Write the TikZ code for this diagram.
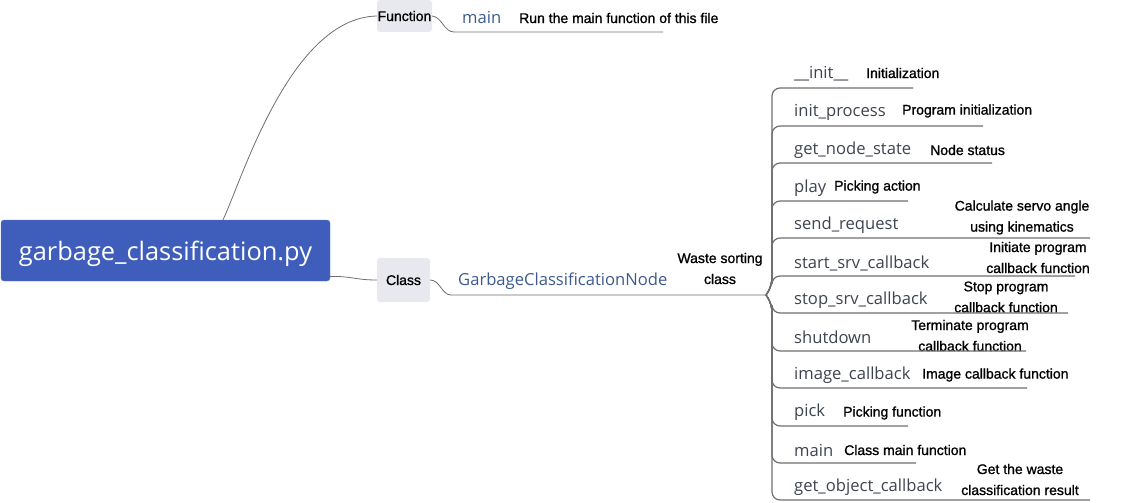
\documentclass[tikz,border=0pt]{standalone}
\usepackage{fontspec}
\setmainfont{Liberation Sans}
\newfontfamily\topicfont{Open Sans}
\newfontfamily\lblfont[FakeBold=1.1]{Liberation Sans}
\usetikzlibrary{calc}
\definecolor{rootblue}{HTML}{3F5DBA}
\definecolor{boxgray}{HTML}{E8E9EF}
\definecolor{linegray}{HTML}{6E6E6E}
\definecolor{topictxt}{HTML}{3E4350}
\definecolor{clstxt}{HTML}{3D5A8E}
\tikzset{
  rootbox/.style={fill=rootblue,draw=rootblue!80!white,rounded corners=3pt,minimum width=329pt,minimum height=61pt,inner sep=0pt,text=white,text height=20pt,text depth=0pt,font=\topicfont\fontsize{25.4}{30}\selectfont},
  catbox/.style={fill=boxgray,rounded corners=3pt,inner sep=0pt,font=\lblfont\fontsize{14}{17}\selectfont},
  topic/.style={inner sep=0pt,anchor=west,text=topictxt,font=\topicfont\fontsize{16.6}{19}\selectfont},
  lbl/.style={inner sep=0pt,anchor=west,font=\lblfont\fontsize{14}{21}\selectfont},
  lbl2/.style={inner sep=0pt,align=center,font=\lblfont\fontsize{14}{21}\selectfont},
  conn/.style={draw=linegray,line width=0.8pt},
  brk/.style={draw=linegray,line width=1.2pt,rounded corners=8pt},
}
\begin{document}
\begin{tikzpicture}[x=1pt,y=-1pt]
\useasboundingbox (0,0) rectangle (1124,503);
% root and categories
\node[rootbox] (root) at (165.5,250.5) {garbage\_classification.py};
\node[catbox,minimum width=55pt,minimum height=32pt] (fn) at (404.5,16) {Function};
\node[catbox,minimum width=53pt,minimum height=44pt] (cls) at (403.5,280) {Class};
% function branch
\node[topic,text=clstxt] (fmain) at (462,17) {main};
\node[lbl] (fmainl) at (519,18) {Run the main function of this file};
\coordinate (fs) at (454,32);
\coordinate (fe) at (663,32);
% class branch
\node[topic,text=clstxt] (gcn) at (458,281) {GarbageClassificationNode};
\node[lbl2] (gcnl) at (720,268.5) {Waste sorting\\class};
\coordinate (cs) at (451,295);
\coordinate (J) at (766,295);
\coordinate (bx) at (772,0);
% connectors top
\draw[conn] ([xshift=57.5pt]root.north) .. controls (242,180) and (290,18) .. (fn.west);
\draw[conn] ([yshift=-26pt]root.east) .. controls (352,276) and (355,280) .. (cls.west);
\draw[conn] (fn.east) .. controls (442,17) and (444,32) .. (fs) -- (fe);
\draw[conn] (cls.east) .. controls (440,280) and (442,295) .. (cs) -- (J);
% children
\node[topic] (c1) at (794,74) {\_\_init\_\_};
\node[lbl] (l1) at (866,73) {Initialization};
\coordinate (e1) at (913,88);
\node[topic] (c2) at (794,112) {init\_process};
\node[lbl] (l2) at (902,111) {Program initialization};
\coordinate (e2) at (983,126);
\node[topic] (c3) at (794,150) {get\_node\_state};
\node[lbl] (l3) at (930,150) {Node status};
\coordinate (e3) at (992,163);
\node[topic] (c4) at (794,188) {play};
\node[lbl] (l4) at (834,187) {Picking action};
\coordinate (e4) at (908,201);
\node[topic] (c5) at (794,225) {send\_request};
\node[lbl2] (l5) at (1022,217.5) {Calculate servo angle\\using kinematics};
\coordinate (e5) at (1090,238);
\node[topic] (c6) at (794,263) {start\_srv\_callback};
\node[lbl2] (l6) at (1038,257.5) {Initiate program\\callback function};
\coordinate (e6) at (1075,276);
\node[topic] (c7) at (794,300) {stop\_srv\_callback};
\node[lbl2] (l7) at (1006,297) {Stop program\\callback function};
\coordinate (e7) at (1068,313);
\node[topic] (c8) at (794,337) {shutdown};
\node[lbl2] (l8) at (970,335.5) {Terminate program\\callback function};
\coordinate (e8) at (1026,351);
\node[topic] (c9) at (794,375) {image\_callback};
\node[lbl] (l9) at (922,375) {Image callback function};
\coordinate (e9) at (1027,388);
\node[topic] (c10) at (794,412) {pick};
\node[lbl] (l10) at (843,413) {Picking function};
\coordinate (e10) at (908,426);
\node[topic] (c11) at (794,450) {main};
\node[lbl] (l11) at (844,450) {Class main function};
\coordinate (e11) at (916,463);
\node[topic] (c12) at (794,487) {get\_object\_callback};
\node[lbl2] (l12) at (1020,479.5) {Get the waste\\classification result};
\coordinate (e12) at (1090,500);
\foreach \i in {1,...,6}{
  \draw[brk] (J) -- ($(J)+(6,-9)$) -- (bx |- e\i) -- (e\i);
}
\foreach \i in {7,...,12}{
  \draw[brk] (J) -- ($(J)+(6,9)$) -- (bx |- e\i) -- (e\i);
}
\end{tikzpicture}
\end{document}
